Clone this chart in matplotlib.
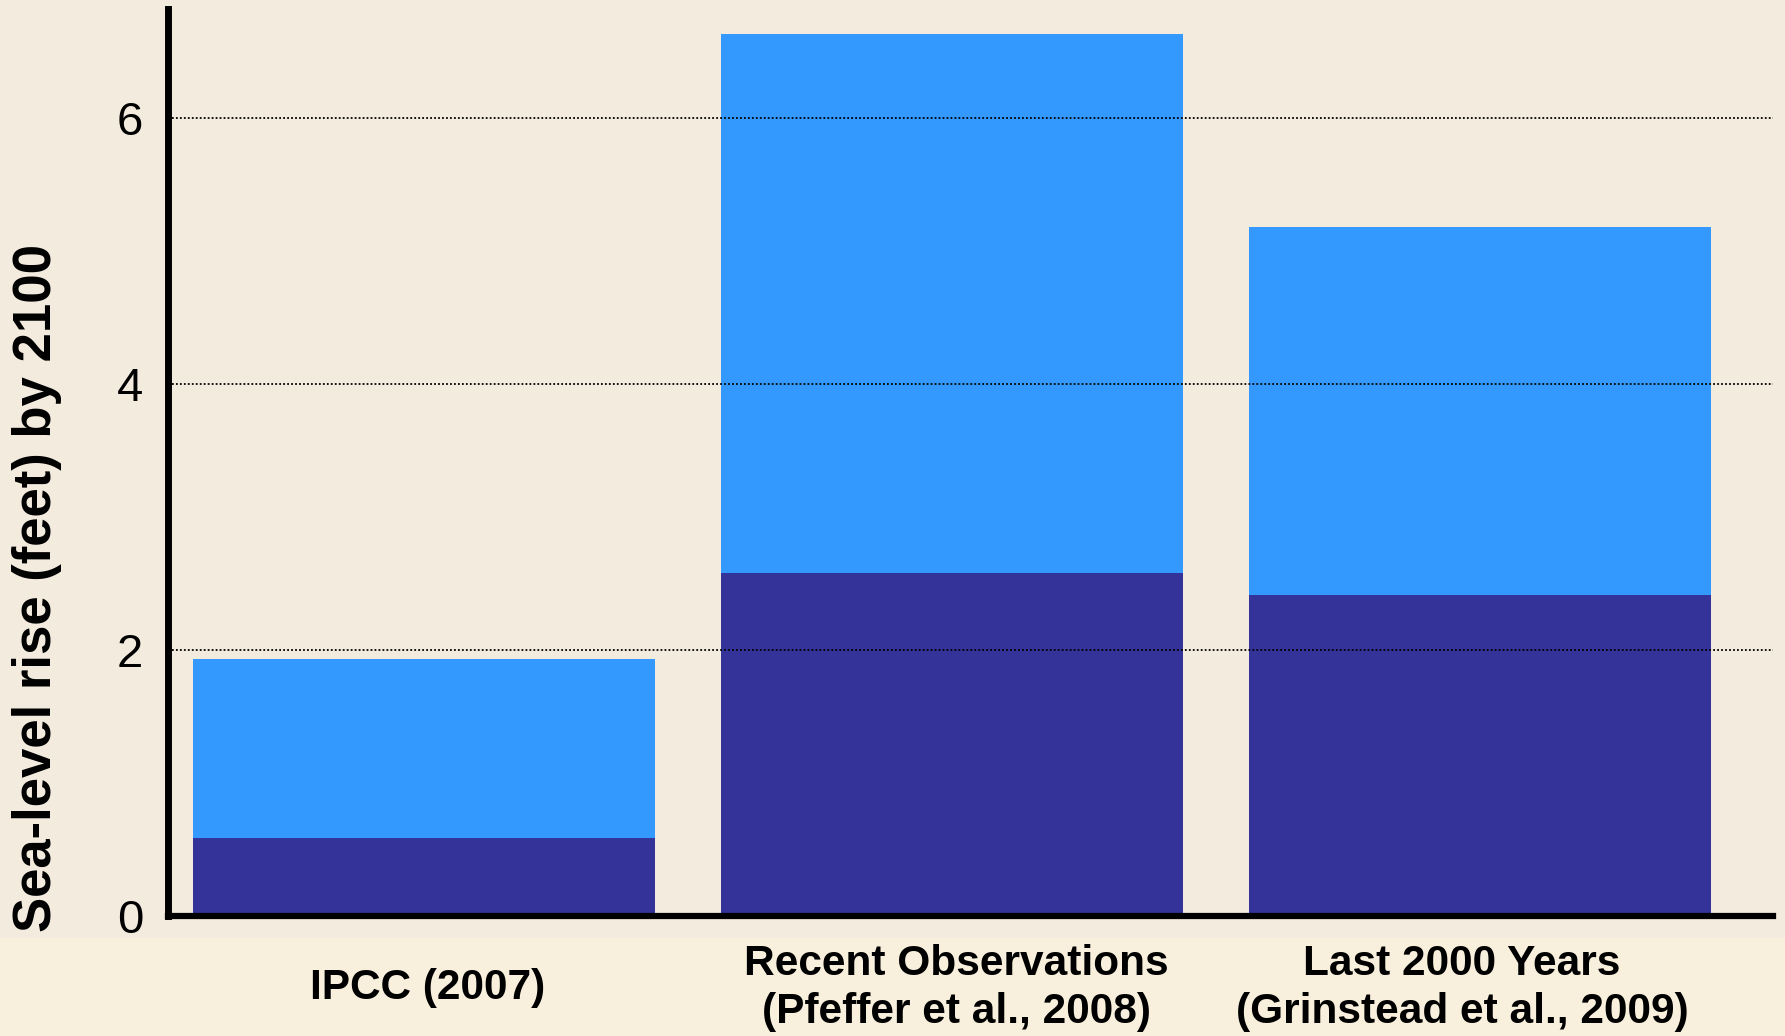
import numpy as np
import matplotlib.pyplot as plt
import matplotlib.transforms as mtransforms
from matplotlib.patches import Rectangle

# sea-level rise by 2100 (feet): lower and upper estimates
studies = ['IPCC (2007)',
           'Recent Observations\n(Pfeffer et al., 2008)',
           'Last 2000 Years\n(Grinstead et al., 2009)']
low_estimate = [0.59, 2.58, 2.41]
high_estimate = [1.93, 6.63, 5.18]

dark_blue = '#333399'
light_blue = '#3399ff'
bg_upper = '#f2ebde'
bg_lower = '#f8f0dc'

plt.rcParams['font.family'] = ['Liberation Sans', 'DejaVu Sans']

fig = plt.figure(figsize=(17.85, 10.36), dpi=100, facecolor=bg_upper)
fig.patches.append(Rectangle((0, 0), 1, 98 / 1036, transform=fig.transFigure,
                             facecolor=bg_lower, edgecolor='none', zorder=-10))

ax = fig.add_axes([168 / 1785, 1 - 916 / 1036, (1773 - 168) / 1785, (916 - 9) / 1036])
ax.set_facecolor(bg_upper)

x = np.arange(len(studies))
low = np.array(low_estimate)
high = np.array(high_estimate)

ax.bar(x, low, width=0.875, color=dark_blue, zorder=2)
ax.bar(x, high - low, bottom=low, width=0.875, color=light_blue, zorder=2)

ax.set_xlim(-0.485, 2.555)
ax.set_ylim(0, 6.82)
ax.set_yticks([0, 2, 4, 6])
ax.set_xticks(x)
ax.set_xticklabels([])

ax.tick_params(axis='y', length=0, pad=18, labelsize=34)
ax.tick_params(axis='x', length=0)

# category labels, centred vertically below the axis (last one sits a bit left)
label_shift = [4, 4, -18]
xaxis_trans = ax.get_xaxis_transform()
for i, name in enumerate(studies):
    trans = mtransforms.offset_copy(xaxis_trans, fig=fig, x=label_shift[i], y=-72, units='dots')
    ax.text(x[i], 0, name, transform=trans, ha='center', va='center',
            fontsize=30.5, fontweight='bold', linespacing=1.27, clip_on=False)

ax.yaxis.grid(True, color='black', linestyle=(0, (1, 1.2)), linewidth=1.3, zorder=3)
ax.set_axisbelow(False)

for side in ['top', 'right']:
    ax.spines[side].set_visible(False)
ax.spines['left'].set_linewidth(5)
ax.spines['bottom'].set_linewidth(4.5)

fig.text(37 / 1785, 1 - 588 / 1036, 'Sea-level rise (feet) by 2100', rotation=90,
         ha='center', va='center', fontsize=38, fontweight='bold')

fig.savefig('out.png', dpi=100, facecolor=fig.get_facecolor())
